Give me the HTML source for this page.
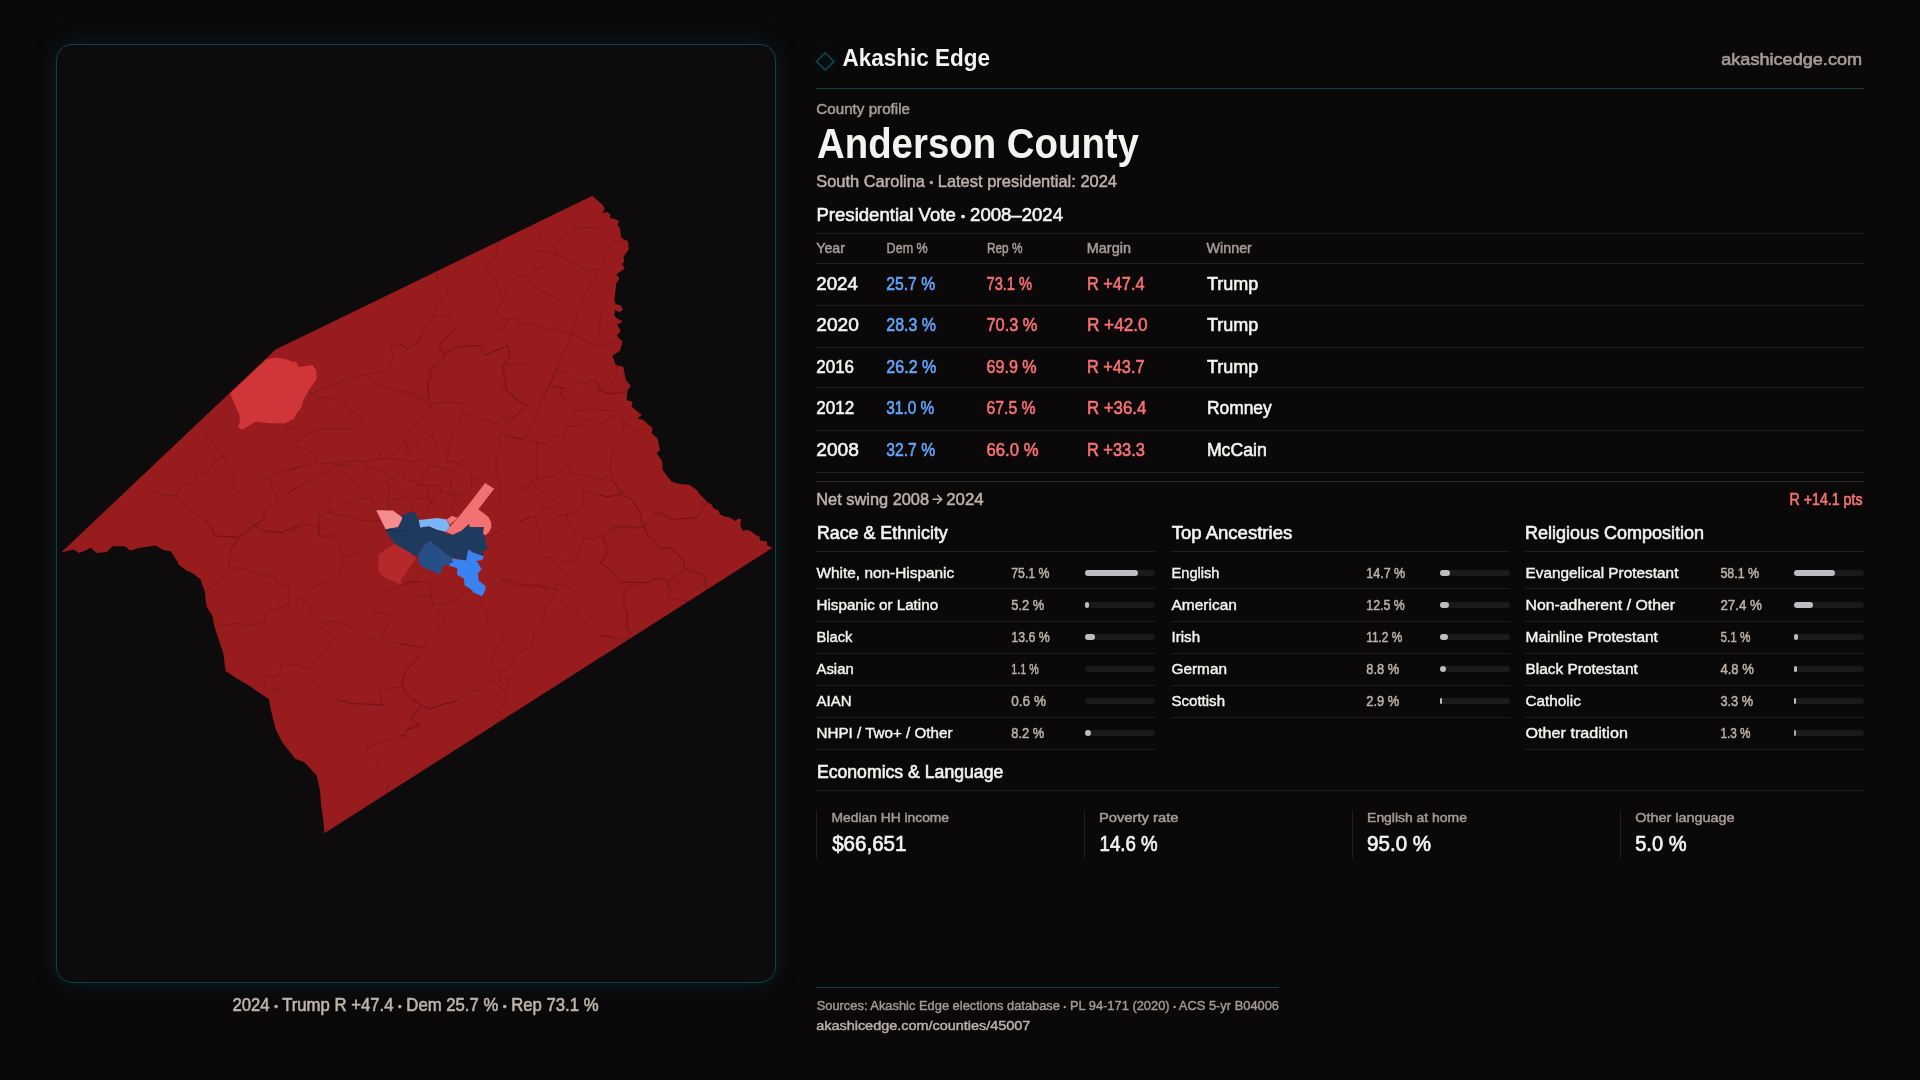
<!DOCTYPE html>
<html><head><meta charset="utf-8"><title>Anderson County</title>
<style>
html,body{margin:0;padding:0;}
body{width:1920px;height:1080px;background:#0a0809;position:relative;overflow:hidden;font-family:"Liberation Sans",sans-serif;}
.r{position:absolute;}
.panel{position:absolute;left:56px;top:44px;width:718px;height:937px;border:1px solid #0c4350;border-radius:16px;background:#0d0b0c;box-shadow:0 0 22px 3px rgba(14,80,96,0.22);}
svg.txt{position:absolute;left:0;top:0;will-change:transform;font-family:"Liberation Sans",sans-serif;}
</style></head><body>
<div class="panel"></div>
<svg class="r" style="left:0;top:0;width:1920px;height:1080px" width="1920" height="1080" viewBox="0 0 1920 1080">
<defs><clipPath id="cl"><polygon points="592.4,195.8 594.4,197.8 602.8,204.9 604.7,208.8 602.1,213.3 606.7,212.0 610.6,214.6 609.9,217.9 617.0,219.8 619.0,221.1 617.7,224.4 620.3,228.9 620.9,236.7 623.5,239.3 628.1,241.2 628.7,249.6 623.5,256.8 624.2,261.3 622.2,264.5 624.8,268.4 616.4,274.3 619.6,278.8 616.4,282.7 614.4,300.2 615.7,304.1 620.9,305.4 622.9,309.9 619.6,311.9 615.1,309.9 614.4,315.7 617.0,318.3 622.9,321.6 617.0,324.8 620.8,330.8 616.7,335.8 622.5,341.7 620.0,350.8 612.5,355.8 615.8,365.0 623.3,366.7 625.8,380.0 630.8,385.8 627.5,390.0 626.7,400.0 632.5,401.7 631.7,406.7 641.7,415.0 637.5,418.3 643.3,420.0 652.5,428.3 651.7,433.3 657.5,438.3 660.0,450.0 656.7,453.3 662.5,461.7 662.5,470.0 671.7,481.7 680.0,483.9 689.3,484.8 696.7,489.9 699.0,493.6 706.9,501.5 711.9,504.7 713.3,508.0 718.4,510.3 720.3,514.4 723.5,516.3 729.1,517.2 735.6,520.9 737.9,518.6 741.6,519.5 740.2,522.8 741.1,527.4 743.0,531.1 746.7,529.7 752.2,532.0 755.0,534.4 759.6,536.7 760.1,540.8 766.6,541.3 767.5,545.9 769.8,546.4 772.6,547.8 324.4,833.3 323.3,820.0 321.1,804.4 320.0,791.1 316.7,775.6 304.4,762.2 295.6,758.9 282.2,742.2 275.6,728.9 271.1,711.1 268.9,698.9 260.0,693.3 248.9,685.6 235.6,677.8 225.6,671.1 223.3,653.3 218.9,640.0 214.4,626.7 212.2,615.6 206.7,606.7 205.6,600.0 205.0,592.5 200.4,579.2 192.5,573.3 186.7,570.8 178.3,564.2 177.5,561.7 170.8,551.2 163.3,550.0 155.8,545.4 138.3,547.9 130.4,550.8 125.0,546.2 112.5,546.2 106.7,552.1 96.7,552.9 90.4,547.5 86.7,550.0 79.2,552.9 73.3,549.6 61.2,552.5 275.6,349.4"/></clipPath><clipPath id="cex"><path clip-rule="evenodd" d="M0 0H1920V1080H0Z M360 440V560H520V440Z"/></clipPath><clipPath id="cin"><rect x="360" y="440" width="160" height="120"/></clipPath></defs>
<polygon points="592.4,195.8 594.4,197.8 602.8,204.9 604.7,208.8 602.1,213.3 606.7,212.0 610.6,214.6 609.9,217.9 617.0,219.8 619.0,221.1 617.7,224.4 620.3,228.9 620.9,236.7 623.5,239.3 628.1,241.2 628.7,249.6 623.5,256.8 624.2,261.3 622.2,264.5 624.8,268.4 616.4,274.3 619.6,278.8 616.4,282.7 614.4,300.2 615.7,304.1 620.9,305.4 622.9,309.9 619.6,311.9 615.1,309.9 614.4,315.7 617.0,318.3 622.9,321.6 617.0,324.8 620.8,330.8 616.7,335.8 622.5,341.7 620.0,350.8 612.5,355.8 615.8,365.0 623.3,366.7 625.8,380.0 630.8,385.8 627.5,390.0 626.7,400.0 632.5,401.7 631.7,406.7 641.7,415.0 637.5,418.3 643.3,420.0 652.5,428.3 651.7,433.3 657.5,438.3 660.0,450.0 656.7,453.3 662.5,461.7 662.5,470.0 671.7,481.7 680.0,483.9 689.3,484.8 696.7,489.9 699.0,493.6 706.9,501.5 711.9,504.7 713.3,508.0 718.4,510.3 720.3,514.4 723.5,516.3 729.1,517.2 735.6,520.9 737.9,518.6 741.6,519.5 740.2,522.8 741.1,527.4 743.0,531.1 746.7,529.7 752.2,532.0 755.0,534.4 759.6,536.7 760.1,540.8 766.6,541.3 767.5,545.9 769.8,546.4 772.6,547.8 324.4,833.3 323.3,820.0 321.1,804.4 320.0,791.1 316.7,775.6 304.4,762.2 295.6,758.9 282.2,742.2 275.6,728.9 271.1,711.1 268.9,698.9 260.0,693.3 248.9,685.6 235.6,677.8 225.6,671.1 223.3,653.3 218.9,640.0 214.4,626.7 212.2,615.6 206.7,606.7 205.6,600.0 205.0,592.5 200.4,579.2 192.5,573.3 186.7,570.8 178.3,564.2 177.5,561.7 170.8,551.2 163.3,550.0 155.8,545.4 138.3,547.9 130.4,550.8 125.0,546.2 112.5,546.2 106.7,552.1 96.7,552.9 90.4,547.5 86.7,550.0 79.2,552.9 73.3,549.6 61.2,552.5 275.6,349.4" fill="#981b1e"/>
<g clip-path="url(#cl)">
<polygon points="230.2,393.2 266.3,359.4 275.6,357.6 286.7,359.4 294.1,362.2 295.9,361.3 298.7,366.9 312.6,365.0 316.3,370.6 316.8,378.9 308.9,390.0 303.3,400.2 301.5,407.6 296.9,413.1 294.1,418.7 284.8,423.3 268.1,423.3 256.1,421.5 242.2,429.8 238.1,427.5 239.9,421.5 239.4,415.0 234.8,404.8" fill="#d03637"/>
<polygon points="378.2,554.3 395.0,543.7 409.8,552.6 416.5,557.8 401.7,579.3 400.9,584.4 393.9,581.5 383.7,576.9 378.2,571.1" fill="#b5292b"/>
<polygon points="376.2,510.2 393.0,510.6 405.0,519.4 401.8,519.9 398.1,527.3 385.6,529.2" fill="#f48d8d"/>
<polygon points="385.6,529.2 398.1,527.3 401.8,519.9 402.2,514.8 414.7,511.6 418.7,520.0 420.2,527.4 421.7,532.6 423.1,538.5 426.1,543.0 423.1,547.4 418.0,554.8 416.5,557.0 409.8,552.6 395.0,543.7 389.3,537.0" fill="#1e3a5f"/>
<polygon points="420.2,527.4 429.1,526.3 436.5,529.6 446.1,531.9 445.4,534.1 439.4,536.3 437.2,540.7 436.5,545.9 433.5,544.4 431.3,540.7 426.1,543.0 423.1,538.5 421.7,532.6" fill="#1e3a5f"/>
<polygon points="436.5,545.9 437.2,540.7 439.4,536.3 445.4,534.1 452.8,534.8 461.7,530.4 469.1,523.7 469.8,527.0 483.9,527.0 483.1,533.3 485.4,537.8 486.5,544.4 487.6,549.6 482.4,551.1 483.9,556.3 472.8,552.6 468.3,549.3 466.1,560.4 452.8,557.8 446.1,554.1 440.9,549.6" fill="#1e3a5f"/>
<polygon points="418.0,554.8 423.1,547.4 426.1,543.0 431.3,540.7 433.5,544.4 436.5,545.9 440.9,549.6 446.1,554.1 452.8,557.8 452.0,560.4 453.5,562.2 448.3,564.4 441.7,566.7 442.4,571.1 439.4,574.1 432.0,571.1 423.1,567.4 418.7,562.2" fill="#264e87"/>
<polygon points="452.0,558.5 466.1,560.4 468.3,549.3 472.8,552.6 483.9,556.3 482.4,560.0 476.5,561.1 481.7,568.9 478.0,573.3 478.7,580.7 485.4,585.9 485.4,590.4 481.7,596.3 473.5,592.6 471.3,589.6 464.6,585.2 463.9,578.5 457.2,574.8 457.2,568.1 449.8,565.9 449.1,563.7 453.5,562.2 452.0,560.4" fill="#3b82f1"/>
<polygon points="418.7,520.0 428.1,519.0 437.4,518.1 446.9,519.5 449.8,526.7 446.1,531.9 436.5,529.6 429.1,526.3 420.2,527.4" fill="#7cb5f6"/>
<polygon points="447.1,519.0 452.2,515.7 457.8,518.1 449.4,525.0" fill="#f07272"/>
<polygon points="485.1,483.0 494.2,488.8 478.4,509.2 488.3,516.7 491.1,522.2 491.3,527.4 489.1,531.9 485.4,535.6 483.1,533.3 483.9,527.0 469.8,527.0 469.1,523.7 461.7,530.4 452.8,534.8 446.1,531.9 449.8,526.7 457.8,518.1 470.2,502.4" fill="#f07272"/>
<g fill="none" stroke="#000" stroke-width="0.55" stroke-opacity="0.27" stroke-linejoin="round">
<g clip-path="url(#cex)">
<polyline points="625.6,237.6 612.0,244.5 598.4,269.7 578.9,306.7 571.1,335.9 555.6,370.9 543.9,400.0"/>
<polyline points="615.9,241.5 602.3,230.8 592.5,227.0 578.9,227.9 565.3,235.7 553.6,245.4 559.5,256.1 571.1,262.0 586.7,270.7 598.4,268.8"/>
<polyline points="532.2,226.0 540.0,230.8 540.0,235.7 547.8,239.6 553.6,245.4"/>
<polyline points="559.5,256.1 543.9,251.3 538.1,250.3 535.2,257.1 542.9,263.9 542.9,267.8 536.1,268.8 528.4,275.6 518.6,276.5 508.9,283.3 506.0,289.2 506.0,298.9 503.1,301.8 499.2,291.1 495.3,279.5 486.5,271.7 486.5,263.9 495.3,256.1 499.2,240.6"/>
<polyline points="524.5,276.5 540.0,291.1 551.7,295.0 565.3,304.7 575.0,310.6"/>
<polyline points="501.1,301.8 495.3,314.5 507.0,320.3 516.7,318.4 518.6,324.2 528.4,323.2 545.9,328.1 551.7,330.0 555.6,328.1 571.1,333.9 582.8,339.7 594.5,345.6 604.2,345.6 613.9,343.6"/>
<polyline points="507.0,320.3 506.0,326.1 495.3,332.0 487.5,343.6 479.7,345.6 458.3,345.6 446.7,353.4 440.8,349.5 438.9,345.6 456.4,328.1 451.5,322.2 450.6,315.4 434.0,316.4"/>
<polyline points="479.7,345.6 485.6,355.3 507.0,345.6 510.9,355.3 502.1,366.0 506.0,376.7 506.0,390.3 516.7,400.0"/>
<polyline points="434.0,316.4 435.0,306.7 446.7,296.0 446.7,289.2 437.0,277.5 436.0,272.7"/>
<polyline points="434.0,316.4 421.4,332.0 419.4,341.7 407.8,349.5 400.0,343.6"/>
<polyline points="446.7,353.4 431.1,367.0 428.2,371.8 431.1,376.7 427.2,384.5 429.2,400.0"/>
<polyline points="555.6,370.9 565.3,372.8 582.8,384.5 594.5,379.6 599.3,390.3 612.0,382.5 615.9,376.7 617.8,365.0"/>
<polyline points="602.3,310.6 598.4,332.9 613.9,343.6"/>
<polyline points="549.7,386.4 563.4,388.4 559.5,394.2 565.3,400.0"/>
<polyline points="599.3,390.3 610.0,394.2 625.6,392.3"/>
<polyline points="400.0,390.3 411.7,392.3 427.2,400.0"/>
<polyline points="198.1,424.6 209.7,437.2 213.6,445.0 223.4,456.7 233.1,468.4 230.2,474.2 235.0,480.0 233.1,487.8 238.9,491.7 254.5,482.0 270.0,476.1 300.0,466.4"/>
<polyline points="223.4,456.7 213.6,462.5 207.8,472.2 196.1,476.1 194.2,483.9 182.5,484.9 176.7,494.6 165.0,495.6 153.3,491.7 141.7,480.0"/>
<polyline points="176.7,494.6 180.6,501.4 196.1,515.0 203.9,518.9 213.6,532.5 215.6,536.4 235.0,536.4 238.9,537.4 254.5,524.8 264.2,518.9 264.2,511.1 273.9,505.3 277.8,497.5 272.0,487.8 270.0,478.1"/>
<polyline points="238.9,537.4 231.1,550.0"/>
<polyline points="254.5,524.8 264.2,530.6 281.7,532.5 300.0,524.8"/>
<polyline points="275.9,505.3 281.7,499.5 293.4,489.7 300.0,485.9"/>
<polyline points="281.7,435.3 289.5,427.5 300.0,425.6"/>
<polyline points="309.4,394.2 328.9,386.4 354.2,376.7 363.9,374.7 387.2,370.8 393.1,359.2 391.1,347.5 400.9,344.6 406.7,349.4 418.4,339.7 426.1,330.0"/>
<polyline points="363.9,374.7 377.5,384.5 402.8,392.2 426.1,402.0 430.0,407.8 430.0,403.9 445.6,402.0 465.0,403.9"/>
<polyline points="430.0,403.9 428.1,394.2 428.1,380.6 432.0,372.8 428.1,368.9 441.7,365.0 445.6,355.3 439.7,349.4 441.7,341.7 455.3,330.0"/>
<polyline points="441.7,353.3 457.3,347.5 476.7,345.6 484.5,355.3 507.8,345.6 509.8,357.2 502.0,365.0 505.9,388.3 519.5,402.0 527.3,404.9 513.6,417.5 503.9,417.5"/>
<polyline points="465.0,403.9 461.1,413.6 453.4,435.0 447.5,454.5 445.6,462.2"/>
<polyline points="461.1,413.6 474.8,415.6 494.2,423.3 503.9,417.5 509.8,423.3"/>
<polyline points="309.4,394.2 334.7,400.0 348.3,407.8 363.9,419.5 354.2,433.1 367.8,444.7 379.5,458.4"/>
<polyline points="295.8,442.8 305.6,435.0 319.2,429.2 354.2,429.2"/>
<polyline points="290.0,440.9 295.8,446.7 309.4,450.6 317.2,462.2 290.0,470.0"/>
<polyline points="317.2,464.2 340.6,462.2 363.9,460.3 379.5,458.4 398.9,458.4 410.6,462.2 430.0,464.2 455.3,470.0"/>
<polyline points="430.0,411.7 412.5,427.2 402.8,438.9 404.7,452.5 433.9,433.1 433.9,444.7 449.5,450.6"/>
<polyline points="379.5,458.4 398.9,450.6 404.7,444.7"/>
<polyline points="309.4,479.7 323.1,473.9 338.6,464.2 354.2,466.1 377.5,475.9 393.1,479.7"/>
<polyline points="338.6,464.2 348.3,477.8 363.9,491.4 371.7,505.0 377.5,512.8"/>
<polyline points="309.4,479.7 321.1,485.6 330.8,501.1 328.9,512.8 344.5,505.0 367.8,497.3 371.7,499.2"/>
<polyline points="290.0,491.4 301.7,485.6 309.4,479.7"/>
<polyline points="328.9,512.8 319.2,516.7 319.2,534.2"/>
<polyline points="328.9,512.8 348.3,516.7 367.8,520.6 377.5,516.7"/>
<polyline points="393.1,479.7 389.2,485.6 391.1,501.1 389.2,512.8"/>
<polyline points="391.1,501.1 406.7,497.3 412.5,505.0 418.4,516.7"/>
<polyline points="398.9,466.1 404.7,470.0 406.7,481.7 414.5,481.7 426.1,464.2"/>
<polyline points="410.6,485.6 426.1,485.6 439.7,485.6 441.7,493.4 455.3,495.3 451.4,501.1 451.4,510.9"/>
<polyline points="426.1,485.6 428.1,497.3 433.9,503.1 439.7,493.4"/>
<polyline points="455.3,470.0 451.4,485.6 451.4,495.3"/>
<polyline points="455.3,470.0 474.8,450.6 484.5,437.0 494.2,423.3"/>
<polyline points="472.8,475.9 484.5,483.6 496.1,485.6 500.0,477.8 496.1,450.6 500.0,435.0 519.5,438.9 530.0,433.1"/>
<polyline points="502.0,365.0 530.0,363.1"/>
<polyline points="500.0,485.6 502.0,501.1 519.5,491.4 530.0,485.6"/>
<polyline points="492.3,534.2 530.0,516.7"/>
<polyline points="290.0,532.3 305.6,524.5 319.2,526.4"/>
<polyline points="556.4,368.3 538.9,407.2 525.3,440.3"/>
<polyline points="500.0,432.5 511.7,436.4 525.3,440.3 537.0,442.2 546.7,445.1 554.5,436.4 564.2,435.4 566.1,426.7 577.8,425.7 589.5,418.9 601.1,422.8 616.7,415.0 624.5,422.8 622.5,434.5 612.8,450.0 609.9,465.6 610.9,475.3"/>
<polyline points="610.9,475.3 601.1,479.2 589.5,476.3 572.0,473.3 568.1,465.6 556.4,475.3 537.0,479.2 537.0,457.8 537.0,442.2"/>
<polyline points="537.0,479.2 531.1,482.1 511.7,492.8 500.0,498.6"/>
<polyline points="531.1,482.1 540.8,490.9 558.3,503.5 548.6,508.4 558.3,516.1 566.1,514.2 581.7,509.3 583.6,490.9 607.0,496.7 620.6,494.7 610.9,475.3"/>
<polyline points="620.6,494.7 632.2,498.6 640.0,512.2 643.9,525.9 655.6,512.2 675.0,520.0 698.4,516.1 704.2,504.5 710.0,502.5"/>
<polyline points="566.1,514.2 570.0,525.9 583.6,537.5 591.4,539.5 601.1,535.6 614.7,527.8 626.4,525.9 636.1,527.8 643.9,525.9"/>
<polyline points="643.9,525.9 647.8,535.6 659.5,549.2 669.2,547.3 682.8,558.9 684.8,570.6 704.2,574.5 706.1,590.0"/>
<polyline points="684.8,570.6 671.1,580.3 667.3,590.0"/>
<polyline points="601.1,535.6 607.0,551.1 601.1,562.8 616.7,574.5 620.6,582.3 647.8,582.3 655.6,578.4 669.2,580.3"/>
<polyline points="583.6,537.5 577.8,555.0 573.9,562.8 568.1,558.9 556.4,564.8 552.5,558.9 538.9,555.0 531.1,549.2 540.8,539.5 535.0,516.1 500.0,527.8"/>
<polyline points="535.0,516.1 544.7,508.4 548.6,508.4"/>
<polyline points="556.4,564.8 564.2,572.5 577.8,582.3"/>
<polyline points="500.0,578.4 511.7,580.3 523.3,586.1 546.7,586.1 558.3,590.0"/>
<polyline points="624.5,422.8 636.1,430.6 647.8,428.6"/>
<polyline points="575.8,411.1 593.3,409.2 616.7,411.1"/>
<polyline points="575.8,411.1 560.3,393.6 564.2,387.8 550.6,385.8"/>
<polyline points="597.2,380.0 599.2,389.7 608.9,393.6 622.5,391.7 628.4,389.7"/>
<polyline points="500.0,389.7 507.8,391.7 519.4,401.4 527.2,405.3 519.4,413.1 509.7,420.8 500.0,426.7"/>
<polyline points="205.3,520.0 213.1,525.8 213.1,535.6 238.3,537.5 248.1,531.7 253.9,525.8 263.6,520.0"/>
<polyline points="253.9,525.8 263.6,531.7 281.1,532.6 296.7,525.8 304.5,520.0"/>
<polyline points="318.1,520.0 319.1,536.5 333.6,535.6 339.5,545.3 345.3,556.0 355.0,553.1 362.8,556.0 376.4,557.9"/>
<polyline points="238.3,537.5 230.6,551.1 228.6,566.7 224.7,576.4 205.3,592.0"/>
<polyline points="228.6,567.6 244.2,568.6 261.7,575.4 275.3,576.4 277.2,582.2 288.9,586.1 288.9,603.6 265.6,613.3 263.6,622.1 248.1,625.0 238.3,623.1 215.0,626.0"/>
<polyline points="345.3,556.0 341.4,564.7 341.4,572.5 331.7,580.3 312.2,587.1 306.4,595.8 296.7,597.8 296.7,603.6"/>
<polyline points="302.5,599.7 316.1,609.5 309.3,615.3 320.0,627.0 335.6,638.6 325.9,648.4 308.4,669.7 296.7,664.9 281.1,664.9 279.2,675.6 275.3,677.5 263.6,675.6"/>
<polyline points="263.6,675.6 265.6,687.3 273.3,689.2 281.1,687.3 275.3,693.1 271.4,697.0"/>
<polyline points="320.0,623.1 335.6,621.1 351.1,627.0 364.8,636.7 378.4,640.6 393.9,615.3 372.5,611.4 380.3,595.8 393.9,588.1 411.4,582.2 420.0,582.2"/>
<polyline points="380.3,636.7 393.9,642.5 420.0,646.4"/>
<polyline points="305.4,675.6 320.0,687.3 333.6,698.9 355.0,703.8 382.3,704.8 380.3,691.1 393.9,687.3 401.7,687.3 405.6,667.8 420.0,656.1"/>
<polyline points="401.7,687.3 413.4,698.9 420.0,700.9"/>
<polyline points="411.4,718.4 420.0,710.6"/>
<polyline points="405.6,730.0 420.0,722.3"/>
<polyline points="400.0,585.8 411.7,581.9 429.2,581.9 431.1,593.6 433.1,605.3 446.7,603.3 458.3,597.5 468.1,589.7"/>
<polyline points="419.4,587.8 418.5,595.6 431.1,595.6"/>
<polyline points="433.1,607.2 446.7,620.8 433.1,636.4 429.2,636.4 425.3,648.1 411.7,665.6 403.9,673.3 401.9,685.0 407.8,696.7 419.4,704.5 429.2,708.4 446.7,703.5 456.4,701.5 468.1,690.9 477.8,690.9 491.4,681.1 503.1,688.9 507.0,696.7 503.1,706.4 497.2,708.4 503.1,716.1 493.3,725.9"/>
<polyline points="400.0,644.2 425.3,648.1"/>
<polyline points="479.7,595.6 481.7,603.3 485.6,611.1 487.5,622.8 501.1,634.5 503.1,640.3 495.3,650.0 491.4,665.6 501.1,671.4 499.2,681.1 508.9,677.2 507.0,688.9 503.1,690.9"/>
<polyline points="503.1,671.4 510.9,665.6 516.7,653.9 532.2,646.1 534.2,632.5 543.9,620.8 545.9,605.3 553.6,597.5 547.8,589.7 536.1,583.9 516.7,585.8 501.1,580.0"/>
<polyline points="553.6,597.5 573.1,609.2 588.6,626.7 602.3,635.4 613.9,638.3 627.5,638.3 629.5,632.5 625.6,626.7 627.5,613.1 623.6,601.4 625.6,589.7 640.0,583.9"/>
<polyline points="555.6,593.6 557.5,583.9 571.1,587.8 577.0,581.9"/>
<polyline points="419.4,706.4 411.7,718.1 419.4,725.9 407.8,729.7 405.8,735.6 400.0,735.6"/>
<polyline points="421.9,705.6 410.8,718.1 419.2,725.7 410.8,729.2 406.7,727.1 403.9,736.1 398.3,734.7 387.2,740.3 366.4,748.6 369.2,755.6 378.9,763.9 374.7,769.4 387.2,780.6 388.6,784.7 385.8,793.1"/>
<polyline points="421.9,705.6 430.3,709.0 442.8,704.2 456.7,701.4 459.4,700.0"/>
<polyline points="412.2,700.0 421.9,705.6"/>
<polyline points="337.2,700.0 351.1,703.5 383.1,704.9 380.3,700.0"/>
<polyline points="611.9,480.0 622.2,493.3 631.1,498.5 640.0,512.6 641.5,525.9 644.4,527.4"/>
<polyline points="600.0,494.8 607.4,497.0 622.2,493.3"/>
<polyline points="644.4,527.4 659.3,511.9 674.1,520.0 683.0,518.5 696.3,518.5 702.2,509.6 706.7,503.7"/>
<polyline points="644.4,527.4 634.1,528.1 623.7,525.9 611.9,527.4 614.8,531.1 603.0,536.3 608.9,551.1 600.0,563.0"/>
<polyline points="644.4,527.4 647.4,534.8 656.3,540.7 659.3,548.9 669.6,546.7 677.0,552.6 683.0,560.0 684.4,568.9 694.8,570.4 703.7,576.3 706.7,580.7 706.7,589.6"/>
<polyline points="600.0,563.0 611.9,571.9 619.3,582.2 631.1,582.2 647.4,583.0 659.3,578.5 668.1,581.5 672.6,576.3 683.0,570.4"/>
<polyline points="668.1,581.5 666.7,586.7 671.1,588.1 668.1,600.7 678.5,598.5 688.9,601.5"/>
<polyline points="672.6,579.3 683.0,583.7 694.8,588.1 699.3,588.1 700.7,592.6"/>
<polyline points="631.1,582.2 623.7,592.6 622.2,605.9 628.1,613.3 626.7,628.1 631.1,634.1 626.7,640.0"/>
<polyline points="600.0,635.6 608.9,635.6 617.8,640.0"/>
</g><g clip-path="url(#cin)">
<polyline points="360.0,462.2 371.1,460.0 382.2,458.9 398.9,458.9 410.0,462.2 417.8,460.0 426.7,463.3 428.9,465.6 437.8,466.7 444.4,468.9 454.4,471.1 456.7,468.9 460.0,462.2 465.6,456.7 471.1,451.1 476.7,446.7 482.2,440.0"/>
<polyline points="360.0,486.7 368.9,493.3 372.2,502.2 376.7,510.0"/>
<polyline points="360.0,498.9 368.9,497.8 371.1,500.0"/>
<polyline points="360.0,520.0 374.4,521.1 380.0,520.0"/>
<polyline points="360.0,460.0 365.6,465.6 373.3,467.8 382.2,472.2 386.7,475.6 393.3,478.9 387.8,480.0 386.7,482.2 390.0,490.0 387.8,498.9 388.9,502.2 390.0,508.9 387.8,511.1"/>
<polyline points="387.8,500.0 404.4,497.8 411.1,502.2 413.3,508.9 414.4,512.2"/>
<polyline points="393.3,478.9 401.1,470.0 404.4,473.3 405.6,480.0 414.4,481.1 416.7,484.4 408.9,493.3 404.4,497.8"/>
<polyline points="428.9,465.6 422.2,477.8 416.7,484.4"/>
<polyline points="416.7,484.4 426.7,485.6"/>
<polyline points="426.7,485.6 440.0,485.6 441.1,492.2 431.1,503.3 427.8,496.7 427.8,486.7"/>
<polyline points="412.2,498.9 428.9,497.8 431.1,503.3 426.7,512.2 422.2,520.0"/>
<polyline points="441.1,492.2 455.6,495.6 453.3,503.3 450.0,507.8 454.4,511.1 454.4,515.6"/>
<polyline points="455.6,495.6 462.2,494.4 471.1,486.7 471.1,476.7"/>
<polyline points="471.1,476.7 483.3,483.3"/>
<polyline points="444.4,468.9 451.1,481.1 450.0,488.9 451.1,494.4"/>
<polyline points="437.8,440.0 435.6,444.4 448.9,451.1 445.6,462.2 454.4,461.1 462.2,465.6"/>
<polyline points="451.1,440.0 448.9,451.1"/>
<polyline points="404.4,440.0 407.8,444.4 404.4,453.3 413.3,446.7 418.9,443.3"/>
<polyline points="375.6,446.7 380.0,453.3 381.1,458.9"/>
<polyline points="386.7,457.8 396.7,451.1 402.2,446.7 403.3,440.0"/>
<polyline points="500.0,440.0 501.1,446.7 495.6,453.3 496.7,461.1 495.6,473.3 498.9,478.9 501.1,484.4 497.8,487.8 501.1,495.6 500.0,501.1 507.8,495.6 515.6,491.1 520.0,488.9"/>
<polyline points="485.6,535.6 493.3,534.4 504.4,526.7 520.0,517.8"/>
<polyline points="385.6,530.0 406.7,531.1 411.1,535.6"/>
<polyline points="437.8,537.8 444.4,534.4"/>
</g></g></g></svg>
<div class="r" style="left:816px;top:88px;width:1048px;height:1px;background:#0d3d49;"></div><div class="r" style="left:816px;top:233px;width:1048px;height:1px;background:#1f1d1e;"></div><div class="r" style="left:816px;top:263px;width:1048px;height:1px;background:#1f1d1e;"></div><div class="r" style="left:816px;top:305px;width:1048px;height:1px;background:#1f1d1e;"></div><div class="r" style="left:816px;top:347px;width:1048px;height:1px;background:#1f1d1e;"></div><div class="r" style="left:816px;top:387px;width:1048px;height:1px;background:#1f1d1e;"></div><div class="r" style="left:816px;top:430px;width:1048px;height:1px;background:#1f1d1e;"></div><div class="r" style="left:816px;top:472px;width:1048px;height:1px;background:#1f1d1e;"></div><div class="r" style="left:816px;top:481px;width:1048px;height:1px;background:#2c2a2b;"></div><div class="r" style="left:816px;top:551px;width:339px;height:1px;background:#1f1d1e;"></div><div class="r" style="left:1085px;top:570px;width:70px;height:6px;background:#1b1a1b;border-radius:3px;"></div><div class="r" style="left:1085px;top:570px;width:52.6px;height:6px;background:#bdbdc1;border-radius:3px;"></div><div class="r" style="left:816px;top:588px;width:339px;height:1px;background:#1f1d1e;"></div><div class="r" style="left:1085px;top:602px;width:70px;height:6px;background:#1b1a1b;border-radius:3px;"></div><div class="r" style="left:1085px;top:602px;width:3.6px;height:6px;background:#bdbdc1;border-radius:3px;"></div><div class="r" style="left:816px;top:621px;width:339px;height:1px;background:#1f1d1e;"></div><div class="r" style="left:1085px;top:634px;width:70px;height:6px;background:#1b1a1b;border-radius:3px;"></div><div class="r" style="left:1085px;top:634px;width:9.5px;height:6px;background:#bdbdc1;border-radius:3px;"></div><div class="r" style="left:816px;top:653px;width:339px;height:1px;background:#1f1d1e;"></div><div class="r" style="left:1085px;top:666px;width:70px;height:6px;background:#1b1a1b;border-radius:3px;"></div><div class="r" style="left:816px;top:685px;width:339px;height:1px;background:#1f1d1e;"></div><div class="r" style="left:1085px;top:698px;width:70px;height:6px;background:#1b1a1b;border-radius:3px;"></div><div class="r" style="left:816px;top:717px;width:339px;height:1px;background:#1f1d1e;"></div><div class="r" style="left:1085px;top:730px;width:70px;height:6px;background:#1b1a1b;border-radius:3px;"></div><div class="r" style="left:1085px;top:730px;width:5.7px;height:6px;background:#bdbdc1;border-radius:3px;"></div><div class="r" style="left:816px;top:749px;width:339px;height:1px;background:#1f1d1e;"></div><div class="r" style="left:1171px;top:551px;width:339px;height:1px;background:#1f1d1e;"></div><div class="r" style="left:1440px;top:570px;width:70px;height:6px;background:#1b1a1b;border-radius:3px;"></div><div class="r" style="left:1440px;top:570px;width:10.3px;height:6px;background:#bdbdc1;border-radius:3px;"></div><div class="r" style="left:1171px;top:588px;width:339px;height:1px;background:#1f1d1e;"></div><div class="r" style="left:1440px;top:602px;width:70px;height:6px;background:#1b1a1b;border-radius:3px;"></div><div class="r" style="left:1440px;top:602px;width:8.8px;height:6px;background:#bdbdc1;border-radius:3px;"></div><div class="r" style="left:1171px;top:621px;width:339px;height:1px;background:#1f1d1e;"></div><div class="r" style="left:1440px;top:634px;width:70px;height:6px;background:#1b1a1b;border-radius:3px;"></div><div class="r" style="left:1440px;top:634px;width:7.8px;height:6px;background:#bdbdc1;border-radius:3px;"></div><div class="r" style="left:1171px;top:653px;width:339px;height:1px;background:#1f1d1e;"></div><div class="r" style="left:1440px;top:666px;width:70px;height:6px;background:#1b1a1b;border-radius:3px;"></div><div class="r" style="left:1440px;top:666px;width:6.2px;height:6px;background:#bdbdc1;border-radius:3px;"></div><div class="r" style="left:1171px;top:685px;width:339px;height:1px;background:#1f1d1e;"></div><div class="r" style="left:1440px;top:698px;width:70px;height:6px;background:#1b1a1b;border-radius:3px;"></div><div class="r" style="left:1440px;top:698px;width:2.0px;height:6px;background:#bdbdc1;border-radius:3px;"></div><div class="r" style="left:1171px;top:717px;width:339px;height:1px;background:#1f1d1e;"></div><div class="r" style="left:1525px;top:551px;width:339px;height:1px;background:#1f1d1e;"></div><div class="r" style="left:1794px;top:570px;width:70px;height:6px;background:#1b1a1b;border-radius:3px;"></div><div class="r" style="left:1794px;top:570px;width:40.7px;height:6px;background:#bdbdc1;border-radius:3px;"></div><div class="r" style="left:1525px;top:588px;width:339px;height:1px;background:#1f1d1e;"></div><div class="r" style="left:1794px;top:602px;width:70px;height:6px;background:#1b1a1b;border-radius:3px;"></div><div class="r" style="left:1794px;top:602px;width:19.2px;height:6px;background:#bdbdc1;border-radius:3px;"></div><div class="r" style="left:1525px;top:621px;width:339px;height:1px;background:#1f1d1e;"></div><div class="r" style="left:1794px;top:634px;width:70px;height:6px;background:#1b1a1b;border-radius:3px;"></div><div class="r" style="left:1794px;top:634px;width:3.6px;height:6px;background:#bdbdc1;border-radius:3px;"></div><div class="r" style="left:1525px;top:653px;width:339px;height:1px;background:#1f1d1e;"></div><div class="r" style="left:1794px;top:666px;width:70px;height:6px;background:#1b1a1b;border-radius:3px;"></div><div class="r" style="left:1794px;top:666px;width:3.4px;height:6px;background:#bdbdc1;border-radius:3px;"></div><div class="r" style="left:1525px;top:685px;width:339px;height:1px;background:#1f1d1e;"></div><div class="r" style="left:1794px;top:698px;width:70px;height:6px;background:#1b1a1b;border-radius:3px;"></div><div class="r" style="left:1794px;top:698px;width:2.3px;height:6px;background:#bdbdc1;border-radius:3px;"></div><div class="r" style="left:1525px;top:717px;width:339px;height:1px;background:#1f1d1e;"></div><div class="r" style="left:1794px;top:730px;width:70px;height:6px;background:#1b1a1b;border-radius:3px;"></div><div class="r" style="left:1794px;top:730px;width:2px;height:6px;background:#a9a9ad;border-radius:1px;"></div><div class="r" style="left:1525px;top:749px;width:339px;height:1px;background:#1f1d1e;"></div><div class="r" style="left:816px;top:790px;width:1048px;height:1px;background:#1f1d1e;"></div><div class="r" style="left:816px;top:810px;width:1px;height:48px;background:#211f20;"></div><div class="r" style="left:1084px;top:810px;width:1px;height:48px;background:#211f20;"></div><div class="r" style="left:1352px;top:810px;width:1px;height:48px;background:#211f20;"></div><div class="r" style="left:1620px;top:810px;width:1px;height:48px;background:#211f20;"></div><div class="r" style="left:816px;top:987px;width:463px;height:1px;background:#0d3d49;"></div>
<svg class="r" style="left:814px;top:50px;width:22px;height:22px;filter:drop-shadow(0 0 5px rgba(12,80,92,0.45))" viewBox="0 0 22 22"><path d="M11.2 2.8 L19.8 11.4 L11.2 20 L2.6 11.4 Z" fill="none" stroke="#0b4a55" stroke-width="1.45"/></svg>
<svg class="txt" width="1920" height="1080" viewBox="0 0 1920 1080">
<text x="842.60" y="66" font-size="24.53" fill="#f5f3ef" textLength="147.42" lengthAdjust="spacingAndGlyphs" font-weight="700">Akashic Edge</text>
<text x="1721.20" y="65" font-size="16.90" fill="#a69b95" textLength="140.90" lengthAdjust="spacingAndGlyphs" stroke="#a69b95" stroke-width="0.6">akashicedge.com</text>
<text x="816.30" y="114" font-size="14.66" fill="#a69b95" textLength="93.70" lengthAdjust="spacingAndGlyphs" stroke="#a69b95" stroke-width="0.5">County profile</text>
<text x="817.00" y="158" font-size="42.30" fill="#f5f3ef" textLength="321.96" lengthAdjust="spacingAndGlyphs" font-weight="700">Anderson County</text>
<text x="816.20" y="187" font-size="16.21" fill="#bcb1a9" textLength="300.81" lengthAdjust="spacingAndGlyphs" stroke="#bcb1a9" stroke-width="0.5">South Carolina <tspan font-size="10.05" dy="-1.05">•</tspan><tspan dy="1.05"> </tspan>Latest presidential: 2024</text>
<text x="816.50" y="221" font-size="18.19" fill="#f5f3ef" textLength="246.48" lengthAdjust="spacingAndGlyphs" stroke="#f5f3ef" stroke-width="0.6">Presidential Vote <tspan font-size="11.28" dy="-1.18">•</tspan><tspan dy="1.18"> </tspan>2008–2024</text>
<text x="816.30" y="253" font-size="14.10" fill="#a69b95" textLength="28.71" lengthAdjust="spacingAndGlyphs" stroke="#a69b95" stroke-width="0.5">Year</text>
<text x="886.60" y="253" font-size="14.10" fill="#a69b95" textLength="41.21" lengthAdjust="spacingAndGlyphs" stroke="#a69b95" stroke-width="0.5">Dem %</text>
<text x="986.90" y="253" font-size="14.10" fill="#a69b95" textLength="35.59" lengthAdjust="spacingAndGlyphs" stroke="#a69b95" stroke-width="0.5">Rep %</text>
<text x="1086.80" y="253" font-size="14.10" fill="#a69b95" textLength="44.19" lengthAdjust="spacingAndGlyphs" stroke="#a69b95" stroke-width="0.5">Margin</text>
<text x="1206.60" y="253" font-size="14.10" fill="#a69b95" textLength="45.30" lengthAdjust="spacingAndGlyphs" stroke="#a69b95" stroke-width="0.5">Winner</text>
<text x="816.30" y="290" font-size="18.61" fill="#f5f3ef" textLength="41.59" lengthAdjust="spacingAndGlyphs" stroke="#f5f3ef" stroke-width="0.6">2024</text>
<text x="886.30" y="290" font-size="18.61" fill="#60a5fa" textLength="48.81" lengthAdjust="spacingAndGlyphs" stroke="#60a5fa" stroke-width="0.6">25.7 %</text>
<text x="986.50" y="290" font-size="18.61" fill="#f87171" textLength="45.51" lengthAdjust="spacingAndGlyphs" stroke="#f87171" stroke-width="0.6">73.1 %</text>
<text x="1086.90" y="290" font-size="18.61" fill="#f87171" textLength="57.71" lengthAdjust="spacingAndGlyphs" stroke="#f87171" stroke-width="0.6">R +47.4</text>
<text x="1206.90" y="290" font-size="18.61" fill="#f5f3ef" textLength="51.39" lengthAdjust="spacingAndGlyphs" stroke="#f5f3ef" stroke-width="0.6">Trump</text>
<text x="816.30" y="331" font-size="18.61" fill="#f5f3ef" textLength="42.59" lengthAdjust="spacingAndGlyphs" stroke="#f5f3ef" stroke-width="0.6">2020</text>
<text x="886.30" y="331" font-size="18.61" fill="#60a5fa" textLength="49.71" lengthAdjust="spacingAndGlyphs" stroke="#60a5fa" stroke-width="0.6">28.3 %</text>
<text x="986.50" y="331" font-size="18.61" fill="#f87171" textLength="50.91" lengthAdjust="spacingAndGlyphs" stroke="#f87171" stroke-width="0.6">70.3 %</text>
<text x="1086.90" y="331" font-size="18.61" fill="#f87171" textLength="60.81" lengthAdjust="spacingAndGlyphs" stroke="#f87171" stroke-width="0.6">R +42.0</text>
<text x="1206.90" y="331" font-size="18.61" fill="#f5f3ef" textLength="51.39" lengthAdjust="spacingAndGlyphs" stroke="#f5f3ef" stroke-width="0.6">Trump</text>
<text x="816.30" y="373" font-size="18.61" fill="#f5f3ef" textLength="37.69" lengthAdjust="spacingAndGlyphs" stroke="#f5f3ef" stroke-width="0.6">2016</text>
<text x="886.30" y="373" font-size="18.61" fill="#60a5fa" textLength="50.01" lengthAdjust="spacingAndGlyphs" stroke="#60a5fa" stroke-width="0.6">26.2 %</text>
<text x="986.50" y="373" font-size="18.61" fill="#f87171" textLength="50.21" lengthAdjust="spacingAndGlyphs" stroke="#f87171" stroke-width="0.6">69.9 %</text>
<text x="1086.90" y="373" font-size="18.61" fill="#f87171" textLength="57.71" lengthAdjust="spacingAndGlyphs" stroke="#f87171" stroke-width="0.6">R +43.7</text>
<text x="1206.90" y="373" font-size="18.61" fill="#f5f3ef" textLength="51.39" lengthAdjust="spacingAndGlyphs" stroke="#f5f3ef" stroke-width="0.6">Trump</text>
<text x="816.30" y="414" font-size="18.61" fill="#f5f3ef" textLength="37.89" lengthAdjust="spacingAndGlyphs" stroke="#f5f3ef" stroke-width="0.6">2012</text>
<text x="886.30" y="414" font-size="18.61" fill="#60a5fa" textLength="47.91" lengthAdjust="spacingAndGlyphs" stroke="#60a5fa" stroke-width="0.6">31.0 %</text>
<text x="986.50" y="414" font-size="18.61" fill="#f87171" textLength="49.11" lengthAdjust="spacingAndGlyphs" stroke="#f87171" stroke-width="0.6">67.5 %</text>
<text x="1086.90" y="414" font-size="18.61" fill="#f87171" textLength="59.51" lengthAdjust="spacingAndGlyphs" stroke="#f87171" stroke-width="0.6">R +36.4</text>
<text x="1206.90" y="414" font-size="18.61" fill="#f5f3ef" textLength="64.82" lengthAdjust="spacingAndGlyphs" stroke="#f5f3ef" stroke-width="0.6">Romney</text>
<text x="816.30" y="456" font-size="18.61" fill="#f5f3ef" textLength="42.59" lengthAdjust="spacingAndGlyphs" stroke="#f5f3ef" stroke-width="0.6">2008</text>
<text x="886.30" y="456" font-size="18.61" fill="#60a5fa" textLength="48.81" lengthAdjust="spacingAndGlyphs" stroke="#60a5fa" stroke-width="0.6">32.7 %</text>
<text x="986.50" y="456" font-size="18.61" fill="#f87171" textLength="52.02" lengthAdjust="spacingAndGlyphs" stroke="#f87171" stroke-width="0.6">66.0 %</text>
<text x="1086.90" y="456" font-size="18.61" fill="#f87171" textLength="58.11" lengthAdjust="spacingAndGlyphs" stroke="#f87171" stroke-width="0.6">R +33.3</text>
<text x="1206.90" y="456" font-size="18.61" fill="#f5f3ef" textLength="59.90" lengthAdjust="spacingAndGlyphs" stroke="#f5f3ef" stroke-width="0.6">McCain</text>
<text x="816.30" y="505" font-size="15.65" fill="#bcb1a9" textLength="112.71" lengthAdjust="spacingAndGlyphs" stroke="#bcb1a9" stroke-width="0.5">Net swing 2008</text>
<text x="946.20" y="505" font-size="15.65" fill="#bcb1a9" textLength="37.49" lengthAdjust="spacingAndGlyphs" stroke="#bcb1a9" stroke-width="0.5">2024</text>
<text x="1789.60" y="505" font-size="15.65" fill="#f87171" textLength="72.90" lengthAdjust="spacingAndGlyphs" stroke="#f87171" stroke-width="0.6">R +14.1 pts</text>
<text x="816.90" y="539" font-size="17.91" fill="#f5f3ef" textLength="130.88" lengthAdjust="spacingAndGlyphs" stroke="#f5f3ef" stroke-width="0.6">Race &amp; Ethnicity</text>
<text x="816.50" y="578" font-size="14.24" fill="#f5f3ef" textLength="137.72" lengthAdjust="spacingAndGlyphs" stroke="#f5f3ef" stroke-width="0.4">White, non-Hispanic</text>
<text x="1011.30" y="578" font-size="14.24" fill="#bcb1a9" textLength="38.21" lengthAdjust="spacingAndGlyphs" stroke="#bcb1a9" stroke-width="0.5">75.1 %</text>
<text x="816.50" y="610" font-size="14.24" fill="#f5f3ef" textLength="121.60" lengthAdjust="spacingAndGlyphs" stroke="#f5f3ef" stroke-width="0.4">Hispanic or Latino</text>
<text x="1011.30" y="610" font-size="14.24" fill="#bcb1a9" textLength="33.00" lengthAdjust="spacingAndGlyphs" stroke="#bcb1a9" stroke-width="0.5">5.2 %</text>
<text x="816.50" y="642" font-size="14.24" fill="#f5f3ef" textLength="35.97" lengthAdjust="spacingAndGlyphs" stroke="#f5f3ef" stroke-width="0.4">Black</text>
<text x="1011.30" y="642" font-size="14.24" fill="#bcb1a9" textLength="38.51" lengthAdjust="spacingAndGlyphs" stroke="#bcb1a9" stroke-width="0.5">13.6 %</text>
<text x="816.50" y="674" font-size="14.24" fill="#f5f3ef" textLength="37.19" lengthAdjust="spacingAndGlyphs" stroke="#f5f3ef" stroke-width="0.4">Asian</text>
<text x="1011.30" y="674" font-size="14.24" fill="#bcb1a9" textLength="27.40" lengthAdjust="spacingAndGlyphs" stroke="#bcb1a9" stroke-width="0.5">1.1 %</text>
<text x="816.50" y="706" font-size="14.24" fill="#f5f3ef" textLength="34.99" lengthAdjust="spacingAndGlyphs" stroke="#f5f3ef" stroke-width="0.4">AIAN</text>
<text x="1011.30" y="706" font-size="14.24" fill="#bcb1a9" textLength="34.70" lengthAdjust="spacingAndGlyphs" stroke="#bcb1a9" stroke-width="0.5">0.6 %</text>
<text x="816.50" y="738" font-size="14.24" fill="#f5f3ef" textLength="136.00" lengthAdjust="spacingAndGlyphs" stroke="#f5f3ef" stroke-width="0.4">NHPI / Two+ / Other</text>
<text x="1011.30" y="738" font-size="14.24" fill="#bcb1a9" textLength="33.00" lengthAdjust="spacingAndGlyphs" stroke="#bcb1a9" stroke-width="0.5">8.2 %</text>
<text x="1171.70" y="539" font-size="17.91" fill="#f5f3ef" textLength="120.52" lengthAdjust="spacingAndGlyphs" stroke="#f5f3ef" stroke-width="0.6">Top Ancestries</text>
<text x="1171.50" y="578" font-size="14.24" fill="#f5f3ef" textLength="48.00" lengthAdjust="spacingAndGlyphs" stroke="#f5f3ef" stroke-width="0.4">English</text>
<text x="1366.30" y="578" font-size="14.24" fill="#bcb1a9" textLength="38.91" lengthAdjust="spacingAndGlyphs" stroke="#bcb1a9" stroke-width="0.5">14.7 %</text>
<text x="1171.50" y="610" font-size="14.24" fill="#f5f3ef" textLength="65.42" lengthAdjust="spacingAndGlyphs" stroke="#f5f3ef" stroke-width="0.4">American</text>
<text x="1366.30" y="610" font-size="14.24" fill="#bcb1a9" textLength="38.51" lengthAdjust="spacingAndGlyphs" stroke="#bcb1a9" stroke-width="0.5">12.5 %</text>
<text x="1171.50" y="642" font-size="14.24" fill="#f5f3ef" textLength="28.59" lengthAdjust="spacingAndGlyphs" stroke="#f5f3ef" stroke-width="0.4">Irish</text>
<text x="1366.30" y="642" font-size="14.24" fill="#bcb1a9" textLength="35.89" lengthAdjust="spacingAndGlyphs" stroke="#bcb1a9" stroke-width="0.5">11.2 %</text>
<text x="1171.50" y="674" font-size="14.24" fill="#f5f3ef" textLength="55.50" lengthAdjust="spacingAndGlyphs" stroke="#f5f3ef" stroke-width="0.4">German</text>
<text x="1366.30" y="674" font-size="14.24" fill="#bcb1a9" textLength="33.00" lengthAdjust="spacingAndGlyphs" stroke="#bcb1a9" stroke-width="0.5">8.8 %</text>
<text x="1171.50" y="706" font-size="14.24" fill="#f5f3ef" textLength="53.50" lengthAdjust="spacingAndGlyphs" stroke="#f5f3ef" stroke-width="0.4">Scottish</text>
<text x="1366.30" y="706" font-size="14.24" fill="#bcb1a9" textLength="33.00" lengthAdjust="spacingAndGlyphs" stroke="#bcb1a9" stroke-width="0.5">2.9 %</text>
<text x="1525.10" y="539" font-size="17.91" fill="#f5f3ef" textLength="178.89" lengthAdjust="spacingAndGlyphs" stroke="#f5f3ef" stroke-width="0.6">Religious Composition</text>
<text x="1525.50" y="578" font-size="14.24" fill="#f5f3ef" textLength="152.91" lengthAdjust="spacingAndGlyphs" stroke="#f5f3ef" stroke-width="0.4">Evangelical Protestant</text>
<text x="1720.40" y="578" font-size="14.24" fill="#bcb1a9" textLength="38.61" lengthAdjust="spacingAndGlyphs" stroke="#bcb1a9" stroke-width="0.5">58.1 %</text>
<text x="1525.50" y="610" font-size="14.24" fill="#f5f3ef" textLength="149.50" lengthAdjust="spacingAndGlyphs" stroke="#f5f3ef" stroke-width="0.4">Non-adherent / Other</text>
<text x="1720.40" y="610" font-size="14.24" fill="#bcb1a9" textLength="41.51" lengthAdjust="spacingAndGlyphs" stroke="#bcb1a9" stroke-width="0.5">27.4 %</text>
<text x="1525.50" y="642" font-size="14.24" fill="#f5f3ef" textLength="132.41" lengthAdjust="spacingAndGlyphs" stroke="#f5f3ef" stroke-width="0.4">Mainline Protestant</text>
<text x="1720.40" y="642" font-size="14.24" fill="#bcb1a9" textLength="30.00" lengthAdjust="spacingAndGlyphs" stroke="#bcb1a9" stroke-width="0.5">5.1 %</text>
<text x="1525.50" y="674" font-size="14.24" fill="#f5f3ef" textLength="112.28" lengthAdjust="spacingAndGlyphs" stroke="#f5f3ef" stroke-width="0.4">Black Protestant</text>
<text x="1720.40" y="674" font-size="14.24" fill="#bcb1a9" textLength="33.40" lengthAdjust="spacingAndGlyphs" stroke="#bcb1a9" stroke-width="0.5">4.8 %</text>
<text x="1525.50" y="706" font-size="14.24" fill="#f5f3ef" textLength="55.31" lengthAdjust="spacingAndGlyphs" stroke="#f5f3ef" stroke-width="0.4">Catholic</text>
<text x="1720.40" y="706" font-size="14.24" fill="#bcb1a9" textLength="32.60" lengthAdjust="spacingAndGlyphs" stroke="#bcb1a9" stroke-width="0.5">3.3 %</text>
<text x="1525.50" y="738" font-size="14.24" fill="#f5f3ef" textLength="102.39" lengthAdjust="spacingAndGlyphs" stroke="#f5f3ef" stroke-width="0.4">Other tradition</text>
<text x="1720.40" y="738" font-size="14.24" fill="#bcb1a9" textLength="30.00" lengthAdjust="spacingAndGlyphs" stroke="#bcb1a9" stroke-width="0.5">1.3 %</text>
<text x="816.90" y="778" font-size="17.48" fill="#f5f3ef" textLength="186.40" lengthAdjust="spacingAndGlyphs" stroke="#f5f3ef" stroke-width="0.6">Economics &amp; Language</text>
<text x="831.60" y="822" font-size="13.25" fill="#a69b95" textLength="117.42" lengthAdjust="spacingAndGlyphs" stroke="#a69b95" stroke-width="0.5">Median HH income</text>
<text x="832.20" y="851" font-size="21.71" fill="#f5f3ef" textLength="74.30" lengthAdjust="spacingAndGlyphs" stroke="#f5f3ef" stroke-width="0.7">$66,651</text>
<text x="1098.90" y="822" font-size="13.25" fill="#a69b95" textLength="79.68" lengthAdjust="spacingAndGlyphs" stroke="#a69b95" stroke-width="0.5">Poverty rate</text>
<text x="1099.50" y="851" font-size="21.71" fill="#f5f3ef" textLength="58.12" lengthAdjust="spacingAndGlyphs" stroke="#f5f3ef" stroke-width="0.7">14.6 %</text>
<text x="1367.10" y="822" font-size="13.25" fill="#a69b95" textLength="99.82" lengthAdjust="spacingAndGlyphs" stroke="#a69b95" stroke-width="0.5">English at home</text>
<text x="1367.10" y="851" font-size="21.71" fill="#f5f3ef" textLength="63.92" lengthAdjust="spacingAndGlyphs" stroke="#f5f3ef" stroke-width="0.7">95.0 %</text>
<text x="1635.20" y="822" font-size="13.25" fill="#a69b95" textLength="99.39" lengthAdjust="spacingAndGlyphs" stroke="#a69b95" stroke-width="0.5">Other language</text>
<text x="1635.20" y="851" font-size="21.71" fill="#f5f3ef" textLength="51.29" lengthAdjust="spacingAndGlyphs" stroke="#f5f3ef" stroke-width="0.7">5.0 %</text>
<text x="816.70" y="1010" font-size="12.97" fill="#a69b95" textLength="462.32" lengthAdjust="spacingAndGlyphs" stroke="#a69b95" stroke-width="0.4">Sources: Akashic Edge elections database <tspan font-size="8.04" dy="-0.84">•</tspan><tspan dy="0.84"> </tspan>PL 94-171 (2020) <tspan font-size="8.04" dy="-0.84">•</tspan><tspan dy="0.84"> </tspan>ACS 5-yr B04006</text>
<text x="816.20" y="1030" font-size="13.40" fill="#bcb1a9" textLength="214.22" lengthAdjust="spacingAndGlyphs" stroke="#bcb1a9" stroke-width="0.45">akashicedge.com/counties/45007</text>
<text x="232.40" y="1011" font-size="17.76" fill="#bdb3ab" textLength="366.11" lengthAdjust="spacingAndGlyphs" stroke="#bdb3ab" stroke-width="0.6">2024 <tspan font-size="11.01" dy="-1.15">•</tspan><tspan dy="1.15"> </tspan>Trump R +47.4 <tspan font-size="11.01" dy="-1.15">•</tspan><tspan dy="1.15"> </tspan>Dem 25.7 % <tspan font-size="11.01" dy="-1.15">•</tspan><tspan dy="1.15"> </tspan>Rep 73.1 %</text>
<path d="M933 499.2 H941.6 M937.6 495.2 L941.8 499.2 L937.6 503.2" fill="none" stroke="#bcb1a9" stroke-width="1.5" stroke-linecap="round" stroke-linejoin="round"/>
</svg>
</body></html>
